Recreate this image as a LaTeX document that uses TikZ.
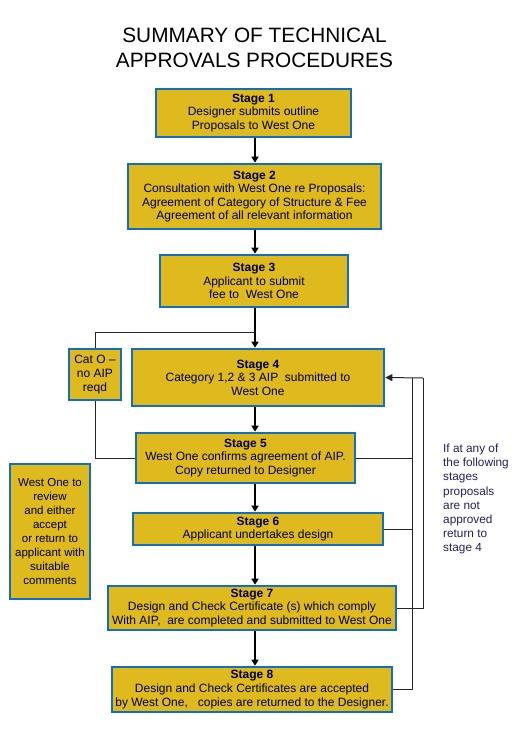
\documentclass[tikz,border=0pt]{standalone}
\usepackage{fontspec}
\setmainfont{Liberation Sans}
\usetikzlibrary{arrows.meta}
\definecolor{gold}{RGB}{222,186,30}
\definecolor{bblue}{RGB}{16,112,192}
\definecolor{notecol}{RGB}{40,30,90}
\begin{document}
\begin{tikzpicture}[x=1pt,y=-1pt,
  box/.style={draw=bblue, line width=2.6pt, fill=gold, rectangle, inner sep=0pt, align=center,
    font=\fontsize{12}{13.6}\selectfont},
  smallbox/.style={box, font=\fontsize{11.5}{14}\selectfont},
  flow/.style={line width=2.6pt, -{Triangle[length=6pt,width=7pt]}},
  thin/.style={line width=1pt, black!85},
  note/.style={align=left, inner sep=0pt, text=notecol, font=\fontsize{11.8}{14.1}\selectfont}]
\useasboundingbox[fill=white] (0,0) rectangle (521,744);
\node[font=\fontsize{20.8}{25}\selectfont, align=center, inner sep=0pt, anchor=north] (title) at (254.5,28)
  {SUMMARY OF TECHNICAL\\APPROVALS PROCEDURES};
\coordinate (sp) at (255,0);
\node[box, minimum width=195pt, minimum height=48pt] (s1) at (253.5,113)
  {\textbf{Stage 1}\\Designer submits outline\\Proposals to West One};
\node[box, minimum width=253pt, minimum height=65pt] (s2) at (254.5,196.5)
  {\textbf{Stage 2}\\Consultation with West One re Proposals:\\Agreement of Category of Structure \& Fee\\Agreement of all relevant information};
\node[box, minimum width=188pt, minimum height=52pt] (s3) at (254,281)
  {\textbf{Stage 3}\\Applicant to submit\\fee to\ \ West One};
\node[box, minimum width=252pt, minimum height=57pt] (s4) at (258,377.5)
  {\textbf{Stage 4}\\Category 1,2 \& 3 AIP\ \ submitted to\\West One};
\node[box, minimum width=52pt, minimum height=51pt] (c0) at (95,374.5)
  {Cat O --\\no AIP\\reqd};
\node[box, minimum width=219pt, minimum height=50pt] (s5) at (245.5,458)
  {\textbf{Stage 5}\\West One confirms agreement of AIP.\\Copy returned to Designer};
\node[box, minimum width=250pt, minimum height=32pt] (s6) at (258,529)
  {\textbf{Stage 6}\\Applicant undertakes design};
\node[box, minimum width=288pt, minimum height=44pt] (s7) at (252,608)
  {\textbf{Stage 7}\\Design and Check Certificate (s) which comply\\With AIP,\ \ are completed and submitted to West One};
\node[box, minimum width=280pt, minimum height=45pt] (s8) at (252,689.5)
  {\textbf{Stage 8}\\Design and Check Certificates are accepted\\by West One,\ \ \ copies are returned to the Designer.};
\node[smallbox, minimum width=80pt, minimum height=135pt] (wo) at (50,531.5)
  {West One to\\review\\and either\\accept\\or return to\\applicant with\\suitable\\comments};
\node[note, anchor=north west] (nt) at (443,444)
  {If at any of\\the following\\stages\\proposals\\are not\\approved\\return to\\stage 4};
% main flow
\draw[flow] (s1.south -| sp) -- (s2.north -| sp);
\draw[flow] (s2.south -| sp) -- (s3.north -| sp);
\draw[flow] (s3.south -| sp) -- (s4.north -| sp);
\draw[flow] (s4.south -| sp) -- (s5.north -| sp);
\draw[flow] (s5.south -| sp) -- (s6.north -| sp);
\draw[flow] (s6.south -| sp) -- (s7.north -| sp);
\draw[flow] (s7.south -| sp) -- (s8.north -| sp);
% Cat O branch
\coordinate (j1) at (255,332);
\coordinate (j2) at (95,332);
\coordinate (j3) at (95,458);
\draw[thin] (j1) -- (j2) -- (c0.north);
\draw[thin] (c0.south) -- (j3) -- (s5.west);
% return loops
\coordinate (ro) at (423,378);
\coordinate (ri) at (412,378);
\draw[thin] (s7.east) -| (ro);
\draw[thin, -{Triangle[length=7pt,width=7pt]}] (ro) -- (s4.east);
\draw[thin] (s8.east) -| (ri);
\draw[thin] (s5.east) -- (s5.east -| ri);
\draw[thin] (s6.east) -- (s6.east -| ri);
\end{tikzpicture}
\end{document}
